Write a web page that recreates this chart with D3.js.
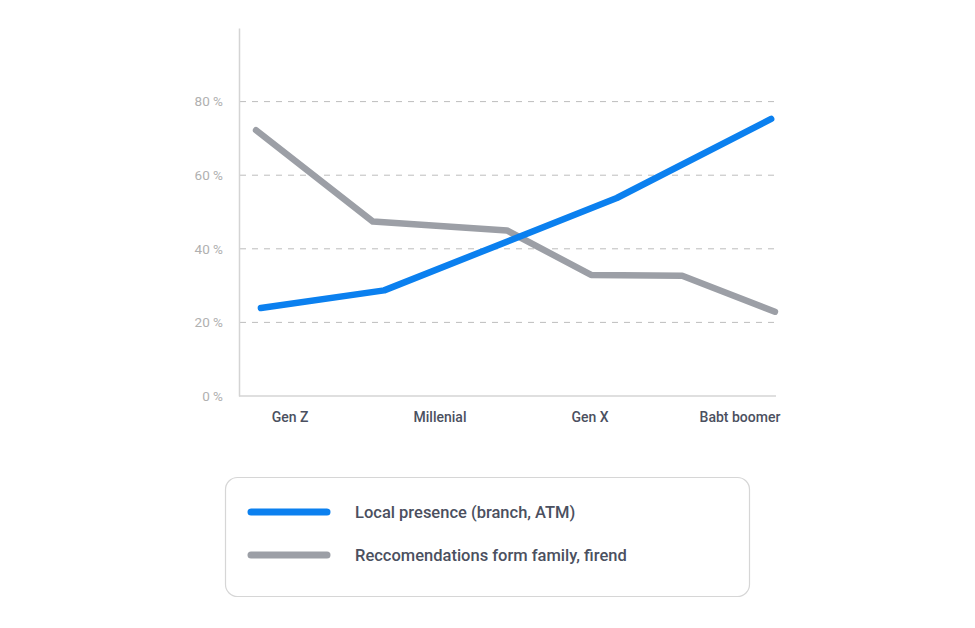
<!DOCTYPE html>
<html>
<head>
<meta charset="utf-8">
<script src="https://cdn.jsdelivr.net/npm/d3@7"></script>
<style>
  html, body { margin: 0; padding: 0; background: #ffffff; }
  svg { display: block; font-family: Roboto, "Noto Sans", sans-serif; }
</style>
</head>
<body>
<svg id="chart" width="975" height="628"></svg>
<script>
// ---- data ----
const categories = ["Gen Z", "Millenial", "Gen X", "Babt boomer"];
const yTicks = [0, 20, 40, 60, 80];
const seriesNames = ["Local presence (branch, ATM)", "Reccomendations form family, firend"];
// position along the horizontal span (0–100) and value in %
const localX = [3.9, 26.9, 70.3, 99.1];
const localY = [23.9, 28.7, 53.8, 75.3];
const recoX = [3.0, 24.8, 49.8, 65.5, 82.5, 99.8];
const recoY = [72.2, 47.4, 45.0, 32.9, 32.7, 22.9];
const colors = ["#0b80ef", "#9c9fa6"];

(function () {
// ---- layout ----
const svg = d3.select("#chart");
const pLeft = 240, pRight = 776, pTop = 28, pBottom = 396;

const y = d3.scaleLinear().domain([0, 100]).range([pBottom, pTop]);
const xPos = d3.scaleLinear().domain([0, 100]).range([pLeft, pRight]);
const xCat = d3.scalePoint().domain(categories).range([289.5, 739.5]);

// grid lines
svg.append("g").selectAll("line")
  .data(yTicks.filter(d => d > 0))
  .join("line")
  .attr("x1", pLeft).attr("x2", pRight)
  .attr("y1", d => y(d)).attr("y2", d => y(d))
  .attr("stroke", "#bdbdbd").attr("stroke-width", 1)
  .attr("stroke-dasharray", "6,6");

// y axis
const yAxis = d3.axisLeft(y).tickValues(yTicks).tickSize(0).tickPadding(16)
  .tickFormat(d => d + " %");
const gy = svg.append("g").attr("transform", `translate(${pLeft - 1},0)`).call(yAxis);
gy.select(".domain").attr("stroke", "#d4d4d4").attr("stroke-width", 1.5);
gy.selectAll("text").attr("fill", "#b0b0b0").attr("font-size", 13.5)
  .attr("font-family", "Roboto, sans-serif");

// x axis
const xAxis = d3.axisBottom(xCat).tickSize(0).tickPadding(16);
const gx = svg.append("g").attr("transform", `translate(0,${pBottom})`).call(xAxis);
gx.select(".domain").remove();
svg.append("line").attr("x1", pLeft - 1).attr("x2", pRight)
  .attr("y1", pBottom).attr("y2", pBottom)
  .attr("stroke", "#d4d4d4").attr("stroke-width", 1.5);
gx.selectAll("text").attr("fill", "#4b5060").attr("font-size", 14)
  .attr("font-weight", 500).attr("font-family", "Roboto, sans-serif");

// lines
const line = d3.line().x(d => xPos(d[0])).y(d => y(d[1]));
const series = [
  d3.zip(recoX, recoY),
  d3.zip(localX, localY)
];
const seriesColors = [colors[1], colors[0]];
svg.append("g").selectAll("path")
  .data(series)
  .join("path")
  .attr("d", line)
  .attr("fill", "none")
  .attr("stroke", (d, i) => seriesColors[i])
  .attr("stroke-width", 6.5)
  .attr("stroke-linecap", "round")
  .attr("stroke-linejoin", "round");

// legend
const lg = svg.append("g");
lg.append("rect").attr("x", 225.5).attr("y", 477.5).attr("width", 524).attr("height", 119)
  .attr("rx", 12).attr("ry", 12)
  .attr("fill", "#ffffff").attr("stroke", "#d6d6d6").attr("stroke-width", 1.2);
const items = lg.selectAll("g.item")
  .data(seriesNames)
  .join("g").attr("class", "item")
  .attr("transform", (d, i) => `translate(0,${512 + i * 43})`);
items.append("line")
  .attr("x1", 251).attr("x2", 327).attr("y1", 0).attr("y2", 0)
  .attr("stroke", (d, i) => colors[i]).attr("stroke-width", 7)
  .attr("stroke-linecap", "round");
items.append("text")
  .attr("x", 355).attr("y", 0).attr("dy", "0.35em")
  .attr("fill", "#4b5060").attr("font-size", 16.5).attr("font-weight", 500)
  .text(d => d);
})();
</script>
</body>
</html>
